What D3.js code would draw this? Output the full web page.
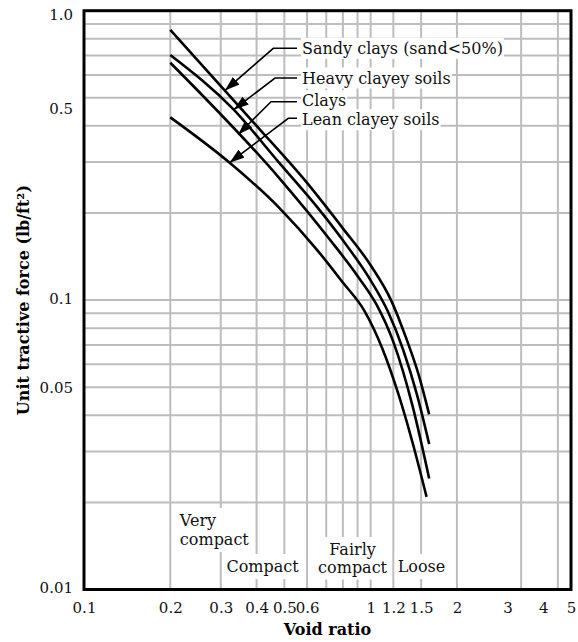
<!DOCTYPE html>
<html>
<head>
<meta charset="utf-8">
<script src="https://cdn.jsdelivr.net/npm/d3@7"></script>
<style>
    body { margin: 0; background: #fff; }
    svg { display: block; font-family: "DejaVu Serif", serif; }
</style>
</head>
<body>
<svg id="chart" width="578" height="642"></svg>
<script>
/* Axis ticks and labels */
const xTicks = [0.1, 0.2, 0.3, 0.4, 0.5, 0.6, 1, 1.2, 1.5, 2, 3, 4, 5];
const xTickLabels = ['0.1', '0.2', '0.3', '0.4', '0.5', '0.6', '1', '1.2', '1.5', '2', '3', '4', '5'];
const yTicks = [0.01, 0.05, 0.1, 0.5, 1];
const yTickLabels = ['0.01', '0.05', '0.1', '0.5', '1.0'];

/* Grid lines as drawn in the original figure */
const xGrid = [0.2, 0.3, 0.4, 0.5, 0.6, 0.7, 0.8, 0.9, 1, 1.2, 1.5, 2, 3.35, 4.5];
const yGrid = [0.02, 0.03, 0.04, 0.05, 0.06, 0.07, 0.08, 0.09, 0.1,
               0.2, 0.3, 0.4, 0.5, 0.6, 0.7, 0.8, 0.9];

/* Curves: [void ratio, unit tractive force] */
const sandyClays = [[0.2, 0.858], [0.4, 0.40], [0.6, 0.254], [0.8, 0.177], [1.0, 0.132],
                    [1.178, 0.1], [1.336, 0.073], [1.47, 0.0553], [1.6, 0.0403]];
const heavyClayey = [[0.2, 0.703], [0.333, 0.455], [0.48, 0.298], [0.65, 0.21], [0.8, 0.161],
                     [1.0, 0.117], [1.15, 0.0911], [1.3, 0.0671], [1.45, 0.0472], [1.6, 0.0318]];
const clays = [[0.2, 0.661], [0.48, 0.264], [0.72, 0.162], [0.9, 0.1212], [1.05, 0.0962],
               [1.2, 0.0717], [1.4, 0.0431], [1.6, 0.0242]];
const leanClayey = [[0.2, 0.428], [0.32, 0.30], [0.48, 0.2084], [0.65, 0.1492], [0.8, 0.115],
                    [0.95, 0.092], [1.1, 0.0678], [1.25, 0.0473], [1.4, 0.0322], [1.567, 0.0209]];

const curveNames = ['Sandy clays (sand<50%)', 'Heavy clayey soils', 'Clays', 'Lean clayey soils'];
const curves = [sandyClays, heavyClayey, clays, leanClayey];
/* Void ratio at which each label's arrow touches its curve */
const arrowTipX = [0.31, 0.333, 0.345, 0.322];

/* Compaction zones along the bottom */
const zoneLines = [['Very', 'compact'], ['Compact'], ['Fairly', 'compact'], ['Loose']];

let svg = d3.select('#chart');
let margin = {top: 10.7, right: 7, bottom: 52.5, left: 84};
let W = 578, H = 642;

let x = d3.scaleLog().domain([0.1, 5]).range([margin.left, W - margin.right]);
let y = d3.scaleLog().domain([0.01, 1]).range([H - margin.bottom, margin.top]);

/* Grid */
let grid = svg.append('g')
    .attr('stroke', '#bdbdbd')
    .attr('stroke-width', 2);
grid.selectAll('.gx')
    .data(xGrid)
    .enter()
    .append('line')
    .attr('x1', d => x(d)).attr('x2', d => x(d))
    .attr('y1', y.range()[1]).attr('y2', y.range()[0]);
grid.selectAll('.gy')
    .data(yGrid)
    .enter()
    .append('line')
    .attr('y1', d => y(d)).attr('y2', d => y(d))
    .attr('x1', x.range()[0]).attr('x2', x.range()[1]);

/* Text with a white box behind it, so grid lines stop around it */
let boxes = svg.append('g');
let texts = svg.append('g').attr('font-size', 16).attr('fill', '#111');

function boxed(t, pad) {
    let b = t.node().getBBox();
    boxes.append('rect')
        .attr('x', b.x - pad).attr('y', b.y - pad)
        .attr('width', b.width + 2 * pad).attr('height', b.height + 2 * pad)
        .attr('fill', '#fff');
}

/* Zone labels: [left or centre x in void ratio, first baseline y, line gap, anchor] */
let zoneLayout = [[0.216, 526, 19, 'start'], [0.314, 572, 0, 'start'],
                  [0.865, 555, 17.5, 'middle'], [1.243, 572, 0, 'start']];
zoneLines.forEach(function(lines, i) {
    let L = zoneLayout[i];
    let t = texts.append('text')
        .attr('x', x(L[0]))
        .attr('y', L[1])
        .attr('text-anchor', L[3]);
    lines.forEach(function(s, j) {
        t.append('tspan')
            .attr('x', x(L[0]))
            .attr('dy', j === 0 ? 0 : L[2])
            .text(s);
    });
    boxed(t, 3);
});

/* Curves */
let line = d3.line()
    .x(d => x(d[0]))
    .y(d => y(d[1]))
    .curve(d3.curveMonotoneX);

svg.append('g')
    .selectAll('path')
    .data(curves)
    .enter()
    .append('path')
    .attr('d', line)
    .attr('fill', 'none')
    .attr('stroke', '#000')
    .attr('stroke-width', 2.6);

/* Log-log interpolation along a curve */
function curveAt(c, v) {
    for (let i = 1; i < c.length; i++) {
        if (v <= c[i][0]) {
            let t = (Math.log(v) - Math.log(c[i - 1][0])) / (Math.log(c[i][0]) - Math.log(c[i - 1][0]));
            return Math.exp(Math.log(c[i - 1][1]) + t * (Math.log(c[i][1]) - Math.log(c[i - 1][1])));
        }
    }
    return c[c.length - 1][1];
}

/* Arrow head */
svg.append('defs')
    .append('marker')
    .attr('id', 'head')
    .attr('markerUnits', 'userSpaceOnUse')
    .attr('viewBox', '0 0 15 10')
    .attr('refX', 15).attr('refY', 5)
    .attr('markerWidth', 15).attr('markerHeight', 10)
    .attr('orient', 'auto')
    .append('path')
    .attr('d', 'M0,0 L15,5 L0,10 Z')
    .attr('fill', '#000');

/* Curve labels: leader row y, text baseline y, elbow x (pixels) */
let labelRow = [48.3, 78, 101.7, 118.3];
let labelBase = [53.8, 83.5, 106.3, 125.2];
let elbow = [273.3, 275, 271, 288.3];
let labelLeft = 302;
curveNames.forEach(function(name, i) {
    let t = texts.append('text')
        .attr('x', labelLeft)
        .attr('y', labelBase[i])
        .text(name);
    boxed(t, 1);
    let tx = x(arrowTipX[i]), ty = y(curveAt(curves[i], arrowTipX[i]));
    svg.append('path')
        .attr('d', `M${labelLeft - 5},${labelRow[i]} H${elbow[i]} L${tx},${ty}`)
        .attr('fill', 'none')
        .attr('stroke', '#000')
        .attr('stroke-width', 1.6)
        .attr('marker-end', 'url(#head)');
});

/* Axes */
let xAxis = svg.append('g')
    .attr('transform', `translate(0,${y.range()[0]})`)
    .call(d3.axisBottom(x)
        .tickValues(xTicks)
        .tickSize(0)
        .tickPadding(13)
        .tickFormat((d, i) => xTickLabels[i]));
let yAxis = svg.append('g')
    .attr('transform', `translate(${x.range()[0]},0)`)
    .call(d3.axisLeft(y)
        .tickValues(yTicks)
        .tickSize(0)
        .tickPadding(11)
        .tickFormat((d, i) => yTickLabels[i]));
[xAxis, yAxis].forEach(function(a) {
    a.select('.domain').remove();
    a.selectAll('text')
        .attr('font-family', '"DejaVu Serif", serif')
        .attr('font-size', 15)
        .attr('fill', '#111');
});
/* The original prints some y labels a little below their lines */
let yLabelShift = [-1.5, 0, -1.5, 11, 4];
yAxis.selectAll('.tick text')
    .attr('y', (d, i) => yLabelShift[i]);

/* Frame */
svg.append('rect')
    .attr('x', x.range()[0]).attr('y', y.range()[1])
    .attr('width', x.range()[1] - x.range()[0])
    .attr('height', y.range()[0] - y.range()[1])
    .attr('fill', 'none')
    .attr('stroke', '#000')
    .attr('stroke-width', 3);

/* Axis titles */
svg.append('text')
    .attr('x', (x.range()[0] + x.range()[1]) / 2)
    .attr('y', 635)
    .attr('text-anchor', 'middle')
    .attr('font-weight', 'bold')
    .attr('font-size', 16)
    .text('Void ratio');
svg.append('text')
    .attr('transform', `translate(29,${(y.range()[0] + y.range()[1]) / 2}) rotate(-90)`)
    .attr('text-anchor', 'middle')
    .attr('font-weight', 'bold')
    .attr('font-size', 16)
    .text('Unit tractive force (lb/ft²)');
</script>
</body>
</html>
